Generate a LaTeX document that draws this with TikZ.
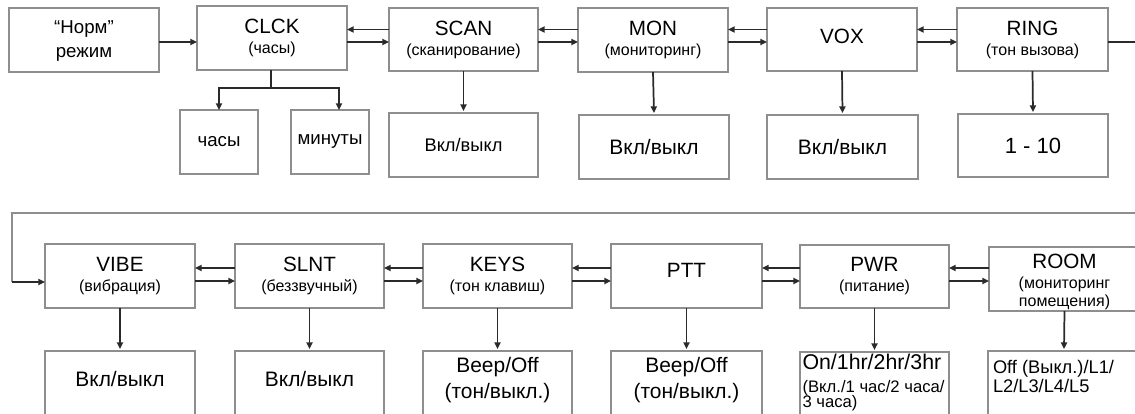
\documentclass[tikz,border=0pt]{standalone}
\usepackage{fontspec}
\setmainfont{Liberation Sans}
\usetikzlibrary{arrows.meta,calc}
\definecolor{boxgray}{HTML}{8E8E8E}
\definecolor{ink}{HTML}{2A2A2A}
\newcommand{\Ttl}{\fontsize{15.5}{17}\selectfont}
\newcommand{\Sbt}{\fontsize{12}{15}\selectfont}
\newcommand{\Vl}{\fontsize{15.7}{20}\selectfont}
\newcommand{\PwrFont}{\fontsize{12.5}{11.25}\selectfont\lineskiplimit=-20pt\relax\lineskip=0pt\relax}
\begin{document}
\begin{tikzpicture}[x=0.75pt,y=-0.75pt,
  box/.style={draw=boxgray, line width=0.8pt, inner sep=0pt, outer sep=0pt,
    align=center, font=\Sbt, text=black},
  sz/.style 2 args={minimum width=#1*0.75pt, minimum height=#2*0.75pt},
  arr/.style={draw=ink, line width=1.3pt, -{Triangle[length=5pt,width=4.6pt]}},
  ln/.style={draw=ink, line width=1.3pt},
  loopline/.style={draw=boxgray, line width=1pt},
  txt/.style={inner sep=0pt, outer sep=0pt, text=black}]
\useasboundingbox (0,0) rectangle (1135,414);
\clip (0,0) rectangle (1135,414);
\fill[white] (0,0) rectangle (1135,414);

% top row
\node[box, sz={150}{64}] (norm) at (84,40) {};
\node[txt, align=center, font=\fontsize{14}{18}\selectfont] (normt) at (84,41.5) {``Норм''\\режим};
\node[box, sz={150}{64}] (clck) at (272,38) {{\Ttl CLCK}\\(часы)};
\node[box, sz={149}{63}] (scan) at (463.5,39.5) {{\Ttl SCAN}\\(сканирование)};
\node[box, sz={150}{64}] (mon) at (653,40) {{\Ttl MON}\\(мониторинг)};
\node[box, sz={150}{63}, font=\Ttl, text depth=4.5pt] (vox) at (842,39.5) {VOX};
\node[box, sz={151}{63}] (ring) at (1032.5,39.5) {{\Ttl RING}\\(тон вызова)};

% top values
\node[box, sz={78}{64}, font=\fontsize{14}{16}\selectfont] (chasy) at (219,142) {часы};
\node[box, sz={78}{64}, font=\fontsize{14}{16}\selectfont] (minuty) at (330,142) {минуты};
\node[box, sz={149}{64}, font=\fontsize{13.7}{16}\selectfont] (scanv) at (463.5,145) {Вкл/выкл};
\node[box, sz={150}{64}, font=\Vl] (monv) at (654,147) {Вкл/выкл};
\node[box, sz={151}{64}, font=\Vl] (voxv) at (842.5,147) {Вкл/выкл};
\node[box, sz={150}{63}, font=\fontsize{16.5}{18}\selectfont] (ringv) at (1033,145.5) {1 - 10};

% bottom row
\node[box, sz={150}{64}] (vibe) at (120,276) {{\Ttl VIBE}\\(вибрация)};
\node[box, sz={149}{64}] (slnt) at (309.5,276) {{\Ttl SLNT}\\(беззвучный)};
\node[box, sz={149}{64}] (keys) at (497.5,276) {{\Ttl KEYS}\\(тон клавиш)};
\node[box, sz={151}{64}, font=\Ttl, text depth=9pt] (ptt) at (686.5,276) {PTT};
\node[box, sz={149}{63}] (pwr) at (874.5,276.5) {{\Ttl PWR}\\(питание)};
\node[box, sz={151}{64}] (room) at (1064.5,279) {};
\node[txt, align=center, font=\Sbt] (roomtt) at (1064.5,282) {{\Ttl ROOM}\\(мониторинг\\[-1.5pt]помещения)};

% bottom values
\node[box, sz={150}{66}, font=\Vl, text depth=8pt] (vibev) at (120,384) {Вкл/выкл};
\node[box, sz={149}{66}, font=\Vl, text depth=8pt] (slntv) at (309.5,384) {Вкл/выкл};
\node[box, sz={149}{66}] (keysv) at (497.5,384) {};
\node[txt, align=center, font=\Vl] (keyst) at (497.5,380) {Beep/Off\\(тон/выкл.)};
\node[box, sz={151}{66}] (pttv) at (686.5,384) {};
\node[txt, align=center, font=\Vl] (pttt) at (686.5,380) {Beep/Off\\(тон/выкл.)};
\node[box, sz={149}{66}] (pwrv) at (874.5,385) {};
\node[box, sz={152}{66}] (roomv) at (1064,384) {};
\node[txt, anchor=north west, align=left, font=\PwrFont] (pwrt) at (802.5,354.5)
  {{\fontsize{16}{18}\selectfont On/1hr/2hr/3hr}\\[6pt](Вкл./1 час/2 часа/\\3 часа)};
\node[txt, anchor=north west, align=left, font=\fontsize{13.7}{14.5}\selectfont] (roomt) at (993,360)
  {Off (Выкл.)/L1/\\L2/L3/L4/L5};

% connectors top row
\draw[arr] (norm.east |- 0,42) -- (clck.west |- 0,42);
\foreach \a/\b in {clck/scan,scan/mon,mon/vox,vox/ring}{
  \draw[arr] (\b.west |- 0,29.5) -- (\a.east |- 0,29.5);
  \draw[arr] (\a.east |- 0,42) -- (\b.west |- 0,42);
}
\coordinate (ringout) at (1140,42);
\draw[ln] (ring.east |- ringout) -- (ringout);

% clck branch
\coordinate (cj) at (271,88);
\draw[ln] (clck.south -| cj) -- (cj);
\draw[arr] (cj) -| (chasy.north);
\draw[arr] (cj) -| ($(minuty.north)+(9,0)$);

% down arrows top
\foreach \a/\b in {scan/scanv,mon/monv,vox/voxv,ring/ringv}{
  \draw[arr] (\a.south) -- ($(\b.north)+(0,-2)$);
}

% loop to second row
\coordinate (loopin) at (1140,213);
\coordinate (lc) at (12,213);
\coordinate (lb) at (12,282);
\draw[loopline] (loopin) -- (lc) -- (lb);
\draw[arr] (lb) -- (vibe.west |- lb);

% connectors bottom row
\foreach \a/\b in {vibe/slnt,slnt/keys,keys/ptt,ptt/pwr,pwr/room}{
  \draw[arr] (\b.west |- 0,268) -- (\a.east |- 0,268);
  \draw[arr] (\a.east |- 0,281) -- (\b.west |- 0,281);
}
\foreach \a/\b in {vibe/vibev,slnt/slntv,keys/keysv,ptt/pttv,pwr/pwrv,room/roomv}{
  \draw[arr] (\a.south) -- ($(\b.north)+(0,-2)$);
}
\end{tikzpicture}
\end{document}
